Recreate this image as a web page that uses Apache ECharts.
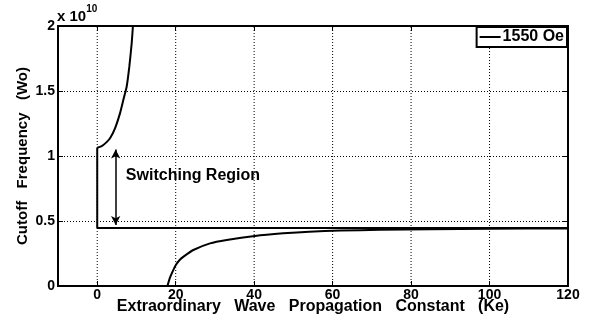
<!DOCTYPE html>
<html>
<head>
<meta charset="utf-8">
<script src="https://cdn.jsdelivr.net/npm/echarts@6/dist/echarts.min.js"></script>
<style>
html,body{margin:0;padding:0;background:#fff;}
#chart{width:590px;height:320px;}
</style>
</head>
<body>
<div id="chart"></div>
<script>
// ---- data (frequency in units of 1e10) ----
const seriesName = '1550 Oe';
const xTickValues = [0, 20, 40, 60, 80, 100, 120];
const yTickValues = [0, 0.5, 1, 1.5, 2];
const boundX = [120, 0, 0];
const boundY = [0.446, 0.446, 1.064];
const upperX = [0, 0.7, 1.55, 2.4, 3.26, 4.53, 5.8, 6.65, 7.5, 8.18, 8.78, 9.1];
const upperY = [1.064, 1.07, 1.085, 1.107, 1.136, 1.213, 1.328, 1.431, 1.533, 1.687, 1.867, 2.0];
const lowerX = [17.9, 18.5, 19.2, 20, 21, 22, 24.5, 28.75, 33, 40.2, 47.4, 54, 62, 72, 85, 100, 120];
const lowerY = [0, 0.06, 0.11, 0.16, 0.2, 0.226, 0.277, 0.328, 0.354, 0.385, 0.405, 0.418, 0.426, 0.432, 0.437, 0.44, 0.443];
const arrowX = 4.7;
const arrowY = [0.469, 1.05];
const noteText = 'Switching Region';
const notePos = [7.3, 0.846];

const zip = (xs, ys) => xs.map((x, i) => [x, ys[i]]);

const chart = echarts.init(document.getElementById('chart'), null, {renderer: 'canvas'});
const FONT = '"Liberation Sans", Arial, sans-serif';
const lineBase = {
  type: 'line', name: seriesName, showSymbol: false, symbol: 'none',
  lineStyle: {color: '#000', width: 2}, itemStyle: {color: '#000'},
  xAxisIndex: 0, yAxisIndex: 0, animation: false, silent: true, clip: true, z: 3
};
const dotStyle = {color: '#000', width: 1, type: [1, 2]};
const Y_MIN = yTickValues[0], Y_MAX = yTickValues[yTickValues.length - 1];
const noLine = {show: false, onZero: false};
const tick = {show: true, inside: true, length: 5, lineStyle: {color: '#000', width: 1}};

// vertical dotted grid lines, one plain line series per x tick (inside the plot)
const gridSeries = xTickValues.filter(v => v > -10 && v < 120).map(v => ({
  type: 'line', name: 'xgrid' + v, data: [[v === 0 ? 1e-6 : v, Y_MIN], [v === 0 ? 1e-6 : v, Y_MAX]],
  showSymbol: false, symbol: 'none', silent: true, animation: false, z: 2,
  lineStyle: dotStyle, itemStyle: {color: '#000'}, clip: false
}));

chart.setOption({
  animation: false,
  backgroundColor: '#fff',
  grid: {left: 58, right: 22, top: 26, bottom: 34, show: true, borderColor: '#000', borderWidth: 2,
    backgroundColor: 'transparent', outerBoundsMode: 'none', containLabel: false},
  legend: {
    data: [{name: seriesName, icon: 'rect'}], right: 23, top: 27, orient: 'horizontal',
    backgroundColor: '#fff', borderColor: '#000', borderWidth: 2, borderRadius: 0,
    padding: [2, 3, 2, 3], itemWidth: 21, itemHeight: 2,
    itemStyle: {color: '#000', borderWidth: 0},
    lineStyle: {width: 0},
    textStyle: {fontFamily: FONT, fontWeight: 700, fontSize: 16, color: '#000', padding: [0, 0, 0, -3]}
  },
  xAxis: [{
    type: 'value', min: -10, max: 120, position: 'bottom',
    name: 'Extraordinary   Wave   Propagation   Constant   (Ke)',
    nameLocation: 'middle', nameGap: 13, nameMoveOverlap: false,
    nameTextStyle: {fontFamily: FONT, fontWeight: 700, fontSize: 16, color: '#000'},
    axisLine: noLine,
    axisTick: Object.assign({customValues: xTickValues}, tick),
    axisLabel: {show: true, customValues: xTickValues, fontFamily: FONT, fontWeight: 700, fontSize: 14, color: '#000', margin: 2},
    splitLine: {show: false}
  }, {
    type: 'value', min: -10, max: 120, position: 'top',
    axisLine: noLine,
    axisTick: Object.assign({customValues: xTickValues}, tick),
    axisLabel: {show: false}, splitLine: {show: false}
  }],
  yAxis: [{
    type: 'value', min: Y_MIN, max: Y_MAX, interval: 0.5, position: 'left',
    name: 'Cutoff   Frequency   (Wo)',
    nameLocation: 'middle', nameGap: 28, nameRotate: 90, nameMoveOverlap: false,
    nameTextStyle: {fontFamily: FONT, fontWeight: 700, fontSize: 15, color: '#000'},
    axisLine: noLine,
    axisTick: tick,
    axisLabel: {show: true, fontFamily: FONT, fontWeight: 700, fontSize: 14, color: '#000', margin: 3,
      formatter: v => String(v)},
    splitLine: {show: true, lineStyle: dotStyle}
  }, {
    type: 'value', min: Y_MIN, max: Y_MAX, interval: 0.5, position: 'right',
    axisLine: noLine,
    axisTick: tick,
    axisLabel: {show: false}, splitLine: {show: false}
  }],
  graphic: [{
    type: 'text', left: 57, top: 4, silent: true,
    style: {
      text: '{b|x 10}{s|10}', fontFamily: FONT,
      rich: {
        b: {fontFamily: FONT, fontWeight: 700, fontSize: 15, color: '#000', verticalAlign: 'bottom', lineHeight: 20},
        s: {fontFamily: FONT, fontWeight: 700, fontSize: 10, color: '#000', verticalAlign: 'top', lineHeight: 20, padding: [0, 0, 9, 0]}
      }
    }
  }],
  series: gridSeries.concat([
    Object.assign({}, lineBase, {data: zip(boundX, boundY)}),
    Object.assign({}, lineBase, {data: zip(upperX, upperY), smooth: 0.2}),
    Object.assign({}, lineBase, {data: zip(lowerX, lowerY), smooth: 0.2,
      markLine: {
        silent: true, animation: false, symbol: ['arrow', 'arrow'], symbolSize: [7, 9],
        lineStyle: {color: '#000', width: 1.5, type: 'solid'},
        label: {show: false},
        data: [[{coord: [arrowX, arrowY[0]]}, {coord: [arrowX, arrowY[1]]}]]
      },
      markPoint: {
        silent: true, animation: false, symbol: 'circle', symbolSize: 0,
        label: {show: true, formatter: noteText, position: [0, 0], align: 'left', verticalAlign: 'middle',
          fontFamily: FONT, fontWeight: 700, fontSize: 16, color: '#000'},
        data: [{coord: notePos}]
      }
    })
  ])
});
</script>
</body>
</html>
